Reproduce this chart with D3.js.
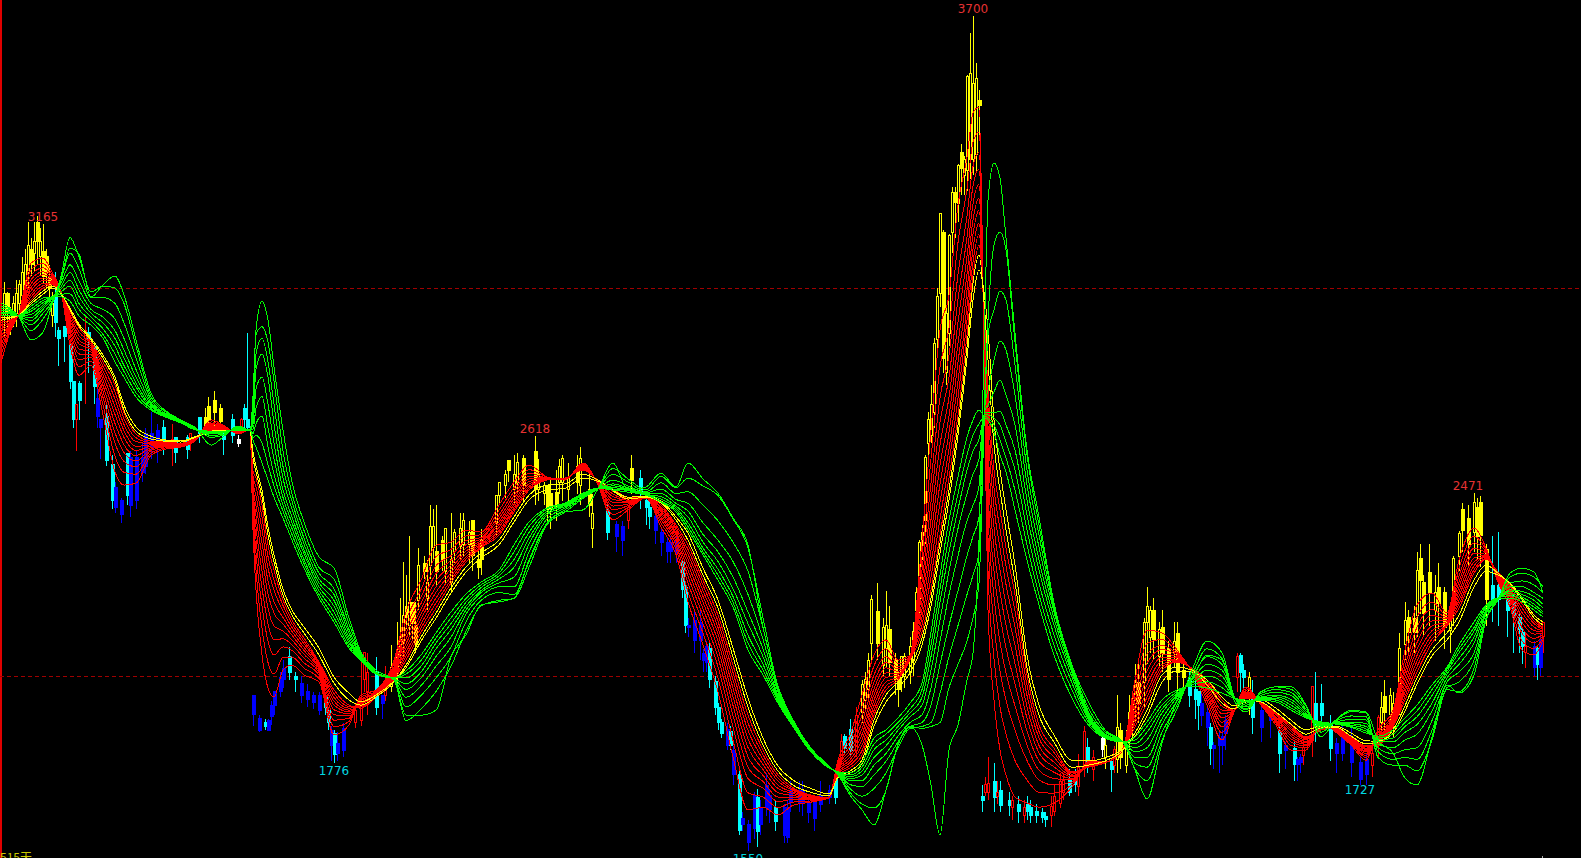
<!DOCTYPE html>
<html><head><meta charset="utf-8">
<script src="https://cdn.jsdelivr.net/npm/d3@7/dist/d3.min.js"></script>
<style>html,body{margin:0;padding:0;background:#000;overflow:hidden}svg{display:block}</style>
</head><body><div id="chart"></div>
<script>
// band rows: day, red0..red9, yellow0, yellow1, green8..green0 (prices)
const bandsA=[
[0,2807,2826,2842,2854,2866,2876,2886,2895,2904,2912,2917,2923,2928,2930,2933,2935,2938,2943,2948,2953,2961],
[3,2886,2892,2896,2900,2903,2906,2909,2912,2915,2917,2923,2925,2928,2930,2933,2935,2938,2940,2943,2946,2948],
[6,2935,2933,2932,2931,2930,2930,2930,2930,2930,2930,2930,2930,2930,2929,2929,2928,2928,2927,2926,2925,2925],
[10,3064,3047,3033,3021,3011,3001,2993,2984,2977,2969,2964,2959,2953,2946,2940,2932,2924,2916,2905,2890,2866],
[14,3077,3063,3052,3042,3034,3026,3019,3012,3006,3000,2992,2984,2974,2968,2962,2956,2951,2945,2935,2920,2886],
[17,3041,3035,3030,3026,3023,3019,3016,3013,3011,3008,3005,3000,2977,2977,2976,2976,2975,2972,2965,2960,2956],
[20,2990,2990,2990,2990,2990,2990,2990,2990,2990,2990,2987,2984,2977,2984,2990,2997,3003,3012,3020,3030,3020],
[23,2853,2868,2881,2891,2901,2909,2917,2924,2931,2938,2943,2948,2966,2985,3005,3020,3040,3060,3090,3130,3103],
[26,2775,2797,2815,2830,2843,2856,2866,2877,2887,2897,2902,2907,2928,2945,2960,2978,2995,3018,3050,3080,3087],
[30,2801,2812,2821,2828,2835,2841,2846,2851,2856,2861,2866,2871,2904,2915,2925,2935,2945,2960,2975,2990,2977],
[34,2673,2698,2718,2734,2749,2763,2775,2787,2798,2809,2819,2827,2871,2880,2895,2910,2925,2945,2975,3005,3008],
[38,2526,2566,2600,2627,2651,2674,2694,2714,2732,2750,2760,2770,2809,2830,2850,2870,2890,2920,2960,3000,3031],
[41,2492,2525,2553,2576,2596,2615,2632,2648,2663,2678,2685,2698,2770,2785,2800,2820,2840,2870,2910,2960,2982],
[45,2497,2520,2539,2554,2568,2581,2592,2604,2614,2624,2631,2642,2719,2730,2745,2755,2770,2790,2820,2850,2866],
[50,2569,2575,2581,2585,2589,2593,2596,2599,2602,2605,2611,2618,2685,2688,2690,2695,2700,2705,2712,2720,2729],
[55,2585,2588,2591,2593,2595,2597,2599,2600,2602,2603,2605,2608,2667,2668,2669,2670,2671,2673,2676,2680,2683],
[60,2590,2592,2593,2595,2596,2597,2598,2598,2599,2600,2603,2606,2652,2653,2654,2654,2655,2656,2657,2658,2660],
[65,2608,2609,2610,2610,2611,2611,2612,2612,2613,2613,2616,2618,2634,2634,2635,2635,2636,2636,2637,2637,2639],
[70,2660,2655,2651,2648,2645,2643,2641,2638,2636,2634,2631,2631,2631,2630,2629,2628,2626,2624,2620,2615,2595],
[74,2647,2645,2643,2641,2640,2638,2637,2636,2635,2634,2634,2634,2631,2630,2629,2628,2627,2626,2623,2621,2616],
[79,2624,2625,2626,2627,2628,2629,2629,2630,2630,2631,2634,2634,2634,2635,2636,2637,2638,2639,2641,2643,2644],
[83,2634,2634,2634,2634,2634,2634,2634,2634,2634,2634,2634,2634,2634,2634,2634,2634,2634,2634,2634,2634,2634]];
const bandsB=[
[84,2376,2403,2426,2444,2460,2476,2489,2503,2515,2527,2562,2577,2608,2615,2625,2635,2650,2665,2690,2720,2711],
[85,2222,2274,2317,2352,2383,2412,2438,2464,2487,2510,2526,2541,2590,2620,2650,2690,2740,2790,2830,2880,2892],
[87,2054,2123,2181,2228,2270,2309,2344,2378,2409,2440,2461,2479,2549,2600,2670,2720,2770,2830,2870,2900,2966],
[89,1969,2035,2090,2135,2175,2212,2245,2278,2308,2337,2363,2384,2505,2545,2590,2640,2700,2770,2810,2860,2917],
[91,1946,2005,2054,2093,2129,2162,2191,2221,2247,2273,2294,2312,2461,2490,2520,2560,2600,2650,2700,2760,2796],
[94,2015,2048,2075,2096,2116,2134,2151,2167,2182,2196,2209,2224,2407,2425,2440,2460,2480,2510,2540,2580,2634],
[97,2028,2049,2066,2080,2093,2105,2115,2125,2135,2144,2157,2170,2350,2365,2380,2395,2410,2430,2450,2470,2500],
[101,2003,2020,2034,2046,2056,2066,2074,2083,2090,2098,2111,2126,2278,2290,2300,2315,2325,2340,2355,2375,2397],
[106,1985,1994,2002,2008,2014,2019,2023,2028,2032,2036,2054,2072,2201,2210,2220,2230,2240,2250,2265,2280,2307],
[111,1848,1869,1886,1900,1913,1925,1935,1945,1955,1964,1982,1997,2139,2150,2165,2180,2195,2210,2225,2250,2278],
[116,1874,1883,1891,1897,1903,1908,1912,1917,1921,1925,1938,1956,2072,2078,2085,2092,2100,2110,2120,2135,2149],
[120,1951,1945,1940,1936,1932,1929,1926,1922,1920,1917,1925,1933,2038,2040,2042,2044,2046,2048,2052,2056,2062],
[125,1964,1961,1958,1956,1954,1952,1950,1949,1947,1946,1946,1951,2005,2005,2005,2006,2006,2007,2008,2010,2015],
[131,2041,2032,2024,2018,2012,2007,2003,1998,1994,1990,1985,1987,1995,1995,1995,1994,1994,1993,1991,1990,1990]];
const bandsC=[
[135,2165,2143,2124,2109,2096,2083,2072,2061,2051,2041,2028,2021,2013,2005,1995,1980,1965,1945,1920,1885,1899],
[140,2247,2223,2203,2187,2172,2159,2147,2134,2124,2113,2100,2090,2054,2040,2025,2010,1995,1975,1950,1915,1899],
[145,2337,2308,2284,2264,2246,2230,2216,2201,2188,2175,2162,2149,2111,2098,2085,2070,2050,2025,1995,1960,1912],
[150,2345,2326,2310,2298,2286,2276,2266,2257,2248,2240,2227,2214,2165,2150,2135,2120,2100,2075,2050,2025,2049],
[155,2376,2361,2349,2339,2330,2322,2315,2307,2301,2294,2281,2268,2211,2200,2190,2180,2170,2160,2140,2115,2106],
[160,2371,2364,2357,2353,2348,2344,2340,2337,2333,2330,2317,2304,2242,2235,2228,2220,2215,2205,2195,2180,2183],
[166,2441,2427,2415,2406,2397,2390,2383,2375,2369,2363,2350,2338,2273,2265,2258,2250,2240,2230,2215,2195,2191],
[171,2500,2486,2475,2465,2457,2449,2442,2435,2429,2423,2410,2397,2338,2320,2300,2280,2255,2230,2210,2200,2201],
[176,2544,2532,2523,2515,2508,2501,2495,2489,2484,2479,2466,2454,2397,2385,2370,2355,2340,2320,2295,2280,2299],
[182,2513,2512,2510,2509,2508,2508,2507,2506,2506,2505,2492,2479,2433,2430,2425,2420,2415,2405,2395,2390,2394],
[188,2505,2506,2507,2508,2508,2509,2509,2509,2510,2510,2495,2484,2446,2444,2442,2440,2437,2433,2428,2422,2423],
[194,2549,2546,2543,2541,2539,2537,2536,2534,2532,2531,2520,2510,2471,2470,2469,2468,2466,2463,2460,2458,2428],
[199,2492,2494,2496,2498,2499,2501,2502,2503,2504,2505,2505,2502,2484,2484,2484,2484,2484,2484,2484,2484,2482]];
const bandsD=[
[204,2402,2416,2428,2438,2447,2455,2462,2469,2476,2482,2477,2479,2479,2482,2485,2490,2495,2505,2520,2535,2549],
[209,2428,2434,2439,2443,2447,2450,2453,2456,2458,2461,2456,2461,2474,2478,2480,2482,2485,2490,2500,2508,2479],
[215,2459,2459,2460,2460,2460,2460,2460,2461,2461,2461,2461,2463,2466,2466,2467,2468,2470,2472,2475,2480,2487],
[220,2384,2394,2403,2410,2416,2422,2427,2432,2436,2441,2446,2451,2448,2450,2456,2462,2470,2482,2498,2515,2523],
[225,2313,2327,2338,2347,2355,2363,2370,2377,2383,2389,2402,2410,2423,2428,2433,2438,2445,2455,2470,2485,2487],
[229,2191,2217,2240,2257,2273,2288,2301,2314,2326,2338,2350,2368,2376,2385,2395,2410,2425,2445,2475,2510,2549],
[234,2080,2110,2135,2155,2173,2190,2205,2220,2234,2247,2260,2278,2312,2320,2330,2345,2365,2395,2440,2490,2508],
[239,1959,1995,2024,2048,2070,2090,2108,2125,2141,2157,2175,2196,2247,2260,2275,2295,2320,2350,2400,2465,2471],
[244,1791,1834,1869,1898,1924,1947,1969,1990,2009,2028,2049,2072,2178,2190,2205,2225,2255,2295,2345,2405,2407],
[249,1655,1699,1736,1765,1792,1816,1838,1860,1879,1899,1920,1943,2067,2085,2105,2135,2165,2210,2270,2330,2337],
[254,1662,1688,1711,1728,1744,1759,1772,1785,1797,1809,1822,1840,2003,2015,2030,2050,2070,2095,2125,2150,2126],
[259,1642,1661,1676,1688,1699,1710,1719,1729,1737,1745,1755,1768,1930,1935,1940,1945,1950,1958,1965,1972,1974],
[264,1667,1675,1682,1687,1692,1697,1701,1705,1708,1712,1719,1732,1869,1871,1873,1875,1877,1880,1882,1885,1887],
[270,1675,1678,1681,1683,1685,1687,1689,1690,1692,1693,1700,1710,1804,1805,1806,1807,1808,1809,1810,1811,1814],
[276,1686,1686,1686,1686,1686,1686,1686,1686,1686,1686,1691,1696,1763,1764,1764,1765,1765,1765,1766,1766,1768],
[279,1784,1777,1771,1766,1762,1758,1755,1751,1748,1745,1740,1737,1753,1752,1752,1752,1751,1750,1748,1746,1745]];
const bandsE=[
[283,1848,1833,1820,1810,1800,1792,1784,1777,1770,1763,1755,1750,1750,1745,1740,1735,1730,1720,1710,1700,1693],
[287,1951,1923,1900,1881,1864,1849,1835,1821,1808,1796,1784,1773,1776,1765,1755,1745,1730,1715,1690,1670,1655],
[291,2054,2026,2003,1984,1967,1952,1938,1924,1911,1899,1886,1871,1840,1825,1810,1790,1770,1745,1710,1660,1616],
[295,2093,2070,2050,2035,2021,2008,1996,1985,1974,1964,1951,1933,1861,1850,1835,1820,1800,1780,1750,1705,1706],
[299,2041,2032,2024,2018,2012,2007,2003,1998,1994,1990,1985,1969,1892,1880,1870,1860,1845,1830,1815,1825,1822],
[303,2054,2052,2050,2048,2047,2045,2044,2043,2042,2041,2023,2008,1930,1915,1905,1895,1880,1870,1865,1870,1868],
[307,2350,2307,2272,2243,2217,2194,2172,2151,2132,2113,2098,2080,1982,1965,1945,1925,1900,1880,1870,1865,1822],
[310,2634,2560,2498,2449,2403,2362,2325,2288,2255,2222,2201,2180,2113,2080,2050,2015,1970,1925,1880,1870,1719],
[313,2892,2796,2717,2654,2596,2543,2495,2448,2405,2363,2343,2317,2260,2225,2190,2145,2090,2030,1955,1880,1590],
[316,2982,2897,2826,2770,2718,2670,2628,2586,2548,2510,2479,2453,2402,2360,2320,2270,2210,2130,2050,1970,1809],
[319,3214,3117,3035,2971,2911,2857,2808,2760,2716,2673,2647,2621,2513,2470,2430,2380,2310,2220,2130,2030,1874],
[322,3337,3255,3186,3131,3081,3035,2994,2952,2916,2879,2848,2819,2616,2570,2530,2470,2400,2310,2210,2090,1990],
[324,3451,3376,3313,3263,3217,3175,3138,3100,3066,3033,3013,2969,2660,2620,2580,2520,2440,2360,2260,2150,2059],
[326,3466,3402,3349,3306,3267,3232,3200,3168,3139,3111,3085,3046,2686,2650,2610,2560,2490,2410,2320,2240,2350]];
const bandsF=[
[328,2660,2702,2737,2765,2790,2813,2834,2855,2873,2892,2930,2969,2665,2670,2675,2680,2685,2698,2711,2737,2943],
[329,2170,2272,2357,2425,2487,2544,2595,2646,2692,2737,2814,2891,2660,2665,2673,2680,2698,2737,2879,2917,3226],
[331,1938,2045,2134,2205,2270,2329,2383,2436,2484,2531,2595,2660,2629,2647,2665,2678,2732,2814,2943,3111,3322],
[333,1809,1920,2013,2088,2156,2217,2273,2329,2378,2428,2479,2531,2569,2608,2647,2683,2763,2863,2992,3144,3283],
[335,1745,1850,1938,2008,2073,2131,2184,2236,2283,2330,2376,2428,2526,2562,2603,2647,2724,2840,2969,3098,3129],
[338,1688,1782,1860,1923,1980,2032,2079,2126,2167,2209,2242,2286,2428,2479,2531,2582,2647,2724,2801,2861,2884],
[342,1673,1732,1782,1822,1858,1891,1921,1950,1977,2003,2021,2054,2299,2338,2376,2415,2453,2492,2531,2570,2582],
[346,1662,1700,1732,1757,1781,1802,1821,1840,1857,1874,1899,1925,2183,2209,2240,2273,2299,2332,2363,2389,2410],
[351,1672,1698,1719,1736,1752,1766,1778,1791,1803,1814,1830,1848,2054,2080,2106,2131,2149,2165,2175,2186,2188],
[357,1714,1721,1727,1732,1736,1740,1743,1747,1750,1753,1765,1783,1943,1964,1982,1997,2008,2015,2020,2026,2028],
[363,1783,1780,1777,1775,1773,1771,1770,1769,1767,1766,1771,1781,1869,1875,1880,1885,1890,1895,1900,1910,1925],
[368,1778,1778,1778,1777,1777,1777,1777,1776,1776,1776,1781,1789,1840,1842,1843,1845,1846,1848,1851,1856,1861],
[374,1814,1813,1813,1812,1812,1811,1811,1810,1810,1809,1809,1812,1830,1830,1830,1830,1830,1830,1830,1830,1830]];
const bandsG=[
[378,1990,1968,1950,1935,1922,1910,1899,1888,1878,1868,1853,1845,1843,1835,1825,1815,1805,1790,1775,1760,1758],
[382,2118,2084,2056,2033,2013,1994,1977,1960,1945,1930,1912,1897,1882,1870,1855,1835,1815,1790,1765,1730,1683],
[387,2111,2094,2079,2068,2057,2048,2039,2030,2023,2015,2003,1984,1938,1925,1915,1905,1890,1875,1855,1835,1827],
[392,2067,2061,2057,2053,2050,2047,2044,2041,2038,2036,2023,2013,1964,1960,1955,1950,1945,1935,1925,1915,1938],
[397,2010,2012,2013,2015,2016,2016,2017,2018,2019,2020,2015,2010,1974,1978,1982,1985,1990,1995,2003,2015,1990],
[402,1925,1937,1947,1954,1961,1968,1974,1980,1985,1990,1977,1990,1969,1985,2000,2015,2030,2050,2070,2090,2054],
[407,1835,1854,1869,1881,1893,1903,1912,1922,1930,1938,1930,1946,1956,1970,1985,2000,2015,2030,2045,2060,2041],
[411,1907,1908,1909,1909,1910,1910,1911,1911,1912,1912,1915,1923,1943,1945,1945,1946,1946,1947,1947,1948,1938],
[415,1972,1967,1962,1959,1956,1953,1950,1948,1945,1943,1938,1933,1938,1935,1933,1930,1925,1920,1915,1912,1907],
[420,1925,1926,1928,1929,1930,1931,1932,1933,1933,1933,1933,1938,1938,1940,1942,1944,1946,1950,1955,1960,1959],
[425,1873,1879,1884,1888,1892,1895,1899,1902,1904,1907,1907,1917,1933,1938,1942,1946,1950,1958,1965,1972,1972],
[430,1809,1821,1830,1838,1845,1851,1858,1864,1869,1874,1876,1886,1912,1918,1925,1933,1940,1950,1958,1966,1972],
[435,1809,1815,1820,1824,1828,1831,1835,1838,1840,1843,1850,1861,1892,1895,1898,1901,1905,1910,1915,1922,1925],
[440,1881,1877,1874,1872,1870,1868,1866,1864,1863,1861,1866,1871,1882,1880,1878,1876,1873,1870,1865,1855,1843],
[445,1855,1857,1859,1860,1862,1863,1864,1866,1867,1868,1868,1871,1876,1877,1878,1879,1880,1882,1885,1887,1887],
[450,1822,1826,1829,1831,1834,1836,1838,1840,1841,1843,1845,1853,1868,1870,1873,1877,1881,1888,1897,1908,1912],
[455,1783,1790,1795,1800,1804,1807,1811,1814,1817,1820,1825,1833,1853,1858,1864,1870,1878,1887,1895,1905,1907]];
const bandsH=[
[459,1861,1854,1848,1843,1839,1835,1832,1828,1825,1822,1830,1832,1845,1840,1835,1830,1825,1815,1805,1790,1834],
[464,1912,1904,1898,1893,1888,1884,1880,1876,1872,1869,1861,1853,1861,1850,1840,1830,1815,1800,1785,1770,1802],
[468,2067,2044,2024,2009,1995,1982,1970,1959,1948,1938,1923,1910,1892,1880,1870,1855,1835,1810,1790,1770,1737],
[472,2183,2152,2126,2105,2086,2069,2053,2038,2024,2010,1995,1979,1925,1910,1895,1875,1850,1815,1785,1755,1719],
[477,2214,2191,2171,2156,2142,2129,2117,2106,2095,2085,2067,2052,1977,1965,1950,1930,1910,1885,1860,1835,1843],
[482,2162,2156,2151,2147,2143,2140,2137,2134,2132,2129,2111,2093,2023,2018,2012,2005,1995,1985,1970,1965,1977],
[486,2299,2277,2258,2243,2230,2217,2206,2195,2185,2175,2157,2139,2080,2070,2060,2045,2030,2010,1985,1960,1956],
[491,2381,2360,2343,2329,2316,2304,2294,2284,2274,2265,2247,2229,2139,2125,2115,2100,2085,2060,2040,2020,2002],
[495,2330,2325,2320,2317,2314,2311,2308,2306,2303,2301,2286,2270,2183,2180,2175,2170,2165,2160,2150,2145,2144],
[499,2242,2247,2251,2254,2257,2259,2262,2264,2266,2268,2265,2260,2201,2201,2201,2200,2200,2200,2200,2199,2196],
[503,2178,2188,2196,2203,2209,2215,2220,2225,2230,2234,2237,2240,2201,2207,2212,2218,2222,2230,2240,2255,2265],
[507,2067,2090,2110,2125,2139,2152,2164,2175,2186,2196,2196,2201,2191,2197,2203,2210,2218,2230,2245,2265,2278],
[511,2054,2071,2086,2097,2108,2117,2126,2135,2142,2150,2150,2157,2170,2178,2185,2195,2205,2215,2235,2255,2268],
[514,2093,2099,2103,2107,2110,2114,2116,2119,2122,2124,2131,2139,2152,2160,2165,2175,2185,2200,2215,2230,2214]];

// candles: day, high, bodyTop, bodyBottom, low, kind (u hollow yellow, f filled yellow, c cyan, b blue, r red, w white)
const candlesA=[
[0,2969,2930,2890,2860,'r'],[1,3015,2985,2930,2876,'u'],[2,2990,2985,2935,2900,'f'],[3,2950,2930,2915,2880,'u'],[4,2980,2960,2920,2900,'u'],[5,3020,2985,2935,2900,'u'],[6,3020,3010,2960,2930,'u'],[7,3080,3040,2980,2950,'u'],[8,3100,3060,3000,2980,'u'],[9,3170,3110,3040,3000,'u'],[10,3130,3100,3060,3030,'f'],[11,3170,3120,3090,3040,'u'],[12,3185,3170,3120,3060,'f'],[13,3155,3120,3080,3030,'u'],[14,3165,3095,3030,3010,'f'],[15,3100,3080,3040,3000,'f'],[16,3060,3030,3000,2970,'f'],[17,2990,2960,2930,2900,'u'],
[18,3040,2976,2910,2873,'c'],[19,2900,2890,2870,2800,'c'],[21,2900,2900,2875,2810,'c'],[23,2860,2858,2758,2740,'c'],[24,2750,2758,2660,2640,'c'],[25,2690,2700,2660,2580,'r'],[26,2760,2755,2710,2660,'c'],[28,2930,2890,2870,2700,'r'],[29,2900,2886,2866,2780,'c'],[31,2850,2848,2745,2700,'c'],[32,2760,2715,2670,2640,'b'],[33,2660,2660,2640,2560,'b'],[35,2700,2668,2555,2540,'c'],[37,2570,2546,2453,2430,'c'],[38,2500,2485,2433,2420,'b'],[40,2460,2453,2415,2395,'b'],[42,2570,2574,2466,2440,'c'],[43,2580,2564,2440,2410,'b'],[45,2580,2564,2453,2430,'b'],[47,2600,2564,2525,2500,'b'],[48,2640,2626,2540,2520,'b'],[50,2680,2626,2590,2560,'b'],[52,2650,2634,2600,2550,'b'],[54,2660,2640,2600,2570,'c'],[57,2650,2610,2590,2540,'r'],[58,2610,2615,2575,2550,'c'],[62,2620,2615,2585,2560,'c'],[63,2625,2625,2600,2580,'r'],[66,2660,2665,2625,2600,'c'],[68,2690,2665,2640,2620,'f'],[69,2720,2695,2660,2630,'f'],[71,2735,2710,2680,2640,'f'],[73,2700,2690,2655,2620,'f'],[74,2640,2620,2610,2570,'c'],[77,2675,2660,2620,2600,'c'],[79,2620,2610,2600,2590,'w'],[80,2665,2660,2640,2625,'r'],[81,2700,2690,2660,2640,'c'],[82,2884,2660,2640,2635,'c']];
const candlesB=[
[84,1950,1950,1900,1870,'b'],[86,1900,1890,1860,1855,'b'],[88,1890,1880,1870,1860,'c'],[89,1890,1885,1860,1860,'b'],[90,1935,1925,1895,1875,'b'],[91,1960,1960,1925,1900,'b'],[93,2010,1995,1960,1945,'b'],[94,2040,2020,1990,1970,'b'],[96,2075,2050,2010,1990,'c'],[98,2010,2000,1990,1960,'c'],[100,2000,1980,1950,1930,'b'],[102,1980,1960,1940,1920,'b'],[104,1960,1950,1932,1915,'b'],[106,1960,1950,1910,1900,'b'],[108,1960,1950,1920,1900,'c'],[109,1920,1910,1880,1860,'c'],[110,1870,1860,1820,1780,'b'],[111,1860,1853,1797,1776,'c'],[112,1855,1825,1800,1780,'b'],[114,1880,1865,1808,1790,'b'],[118,1930,1910,1880,1865,'r'],[120,2040,1935,1885,1870,'r'],[121,2060,2060,1990,1960,'r'],[122,2060,2010,1960,1900,'r'],[125,2050,2010,1920,1900,'c'],[127,1950,1950,1930,1890,'b'],[128,2025,1980,1950,1935,'r'],[130,2080,2021,1974,1960,'u'],[132,2140,2060,2015,1980,'u']];
const candlesC=[
[133,2200,2095,2060,2030,'u'],[134,2295,2155,2090,2050,'u'],[135,2260,2180,2150,2120,'f'],[136,2360,2190,2130,2100,'u'],[137,2190,2190,2135,2090,'f'],[138,2190,2130,2080,2060,'f'],[139,2330,2285,2195,2170,'u'],[141,2310,2290,2270,2250,'f'],[142,2300,2240,2200,2170,'u'],[143,2440,2385,2285,2250,'u'],[144,2430,2385,2330,2300,'u'],[145,2440,2320,2270,2230,'f'],[147,2360,2350,2300,2270,'f'],[148,2380,2380,2270,2240,'u'],[150,2420,2300,2240,2220,'u'],[151,2380,2370,2320,2290,'u'],[153,2420,2380,2335,2300,'u'],[154,2420,2400,2340,2310,'u'],[156,2400,2370,2340,2290,'u'],[157,2400,2400,2310,2270,'f'],[159,2330,2300,2280,2250,'f'],[160,2380,2350,2300,2260,'f'],[165,2460,2465,2395,2360,'u'],[166,2500,2500,2465,2440,'u'],[168,2530,2520,2490,2460,'u'],[169,2550,2555,2530,2500,'f'],[171,2570,2520,2480,2440,'u'],[172,2575,2550,2500,2470,'u'],[174,2570,2560,2490,2450,'f'],[178,2618,2578,2480,2440,'f'],[179,2560,2520,2480,2450,'u'],[181,2500,2490,2470,2440,'u'],[182,2480,2490,2430,2400,'f'],[183,2510,2470,2430,2380,'f'],[185,2530,2472,2436,2400,'f'],[186,2560,2540,2500,2470,'u'],[187,2570,2560,2500,2450,'u'],[189,2550,2510,2480,2450,'u'],[192,2570,2540,2500,2470,'f'],[193,2590,2560,2490,2440,'u'],[196,2520,2480,2440,2410,'f'],[197,2470,2420,2380,2330,'u']];
const candlesD=[
[202,2445,2423,2371,2350,'c'],[205,2400,2390,2360,2320,'b'],[207,2400,2385,2350,2310,'b'],[209,2440,2435,2402,2380,'r'],[210,2570,2536,2505,2470,'f'],[213,2530,2510,2474,2430,'c'],[215,2465,2453,2433,2390,'c'],[216,2450,2435,2410,2380,'c'],[218,2420,2410,2376,2340,'b'],[220,2385,2371,2345,2310,'b'],[222,2355,2343,2320,2290,'b'],[223,2360,2345,2320,2290,'b'],[225,2365,2350,2317,2290,'b'],[227,2300,2294,2222,2200,'c'],[228,2240,2229,2131,2110,'c'],[229,2150,2131,2124,2100,'b'],[231,2170,2144,2092,2060,'b'],[233,2170,2139,2092,2040,'b'],[234,2070,2059,2041,2010,'b'],[235,2090,2075,2036,2010,'b'],[236,2085,2072,1990,1970,'c'],[238,2000,1985,1920,1900,'c'],[239,1930,1920,1879,1860,'c'],[240,1890,1879,1853,1840,'c'],[242,1880,1861,1822,1810,'b'],[243,1870,1856,1822,1810,'c'],[244,1820,1809,1745,1720,'b'],[246,1760,1745,1603,1590,'c'],[247,1650,1634,1616,1600,'b'],[249,1630,1616,1570,1550,'b'],[251,1700,1693,1608,1580,'b'],[252,1710,1686,1598,1560,'c'],[253,1680,1660,1616,1590,'b'],[255,1750,1719,1662,1640,'b'],[256,1710,1693,1655,1620,'b'],[258,1680,1660,1624,1600,'c'],[261,1670,1660,1590,1570,'b'],[262,1680,1660,1585,1570,'b'],[263,1730,1706,1673,1650,'b'],[266,1730,1706,1673,1650,'b'],[267,1730,1706,1673,1640,'b'],[269,1690,1675,1649,1620,'b'],[271,1690,1673,1634,1600,'b'],[273,1730,1693,1668,1650,'b'],[276,1720,1706,1688,1670,'b'],[278,1760,1732,1688,1670,'c']];
const candlesE=[
[280,1850,1830,1791,1770,'r'],[281,1850,1843,1814,1800,'c'],[283,1890,1861,1809,1790,'c'],[285,1920,1899,1809,1790,'r'],[287,1990,1977,1905,1880,'u'],[288,2010,1990,1938,1910,'u'],[289,2060,2041,1964,1940,'u'],[290,2210,2196,2085,2040,'u'],[292,2240,2165,2085,2040,'f'],[294,2150,2126,2028,2000,'u'],[295,2220,2130,2070,2020,'u'],[296,2180,2121,2036,2000,'f'],[298,2060,2041,1990,1950,'f'],[299,2010,1990,1964,1920,'f'],[300,2050,2049,1995,1960,'u'],[301,2060,2049,2000,1970,'u'],[303,2100,2076,2010,1980,'u'],[304,2140,2115,2040,2000,'u'],[305,2230,2214,2170,2120,'u'],[306,2350,2345,2196,2150,'u'],[307,2390,2371,2350,2300,'u'],[308,2570,2564,2402,2340,'u'],[309,2680,2660,2600,2560,'u'],[310,2750,2700,2620,2600,'u'],[311,2870,2858,2678,2640,'u'],[312,3000,2977,2866,2820,'u'],[313,3193,3193,2987,2950,'u'],[314,3150,3142,2819,2780,'f'],[315,2950,2935,2781,2750,'u'],[316,3140,3136,2884,2850,'u'],[317,3260,3247,3142,3090,'u'],[318,3260,3247,3221,3130,'f'],[319,3320,3317,3219,3170,'u'],[320,3370,3348,3309,3240,'f'],[321,3340,3330,3290,3240,'u'],[322,3550,3544,3304,3250,'u'],[323,3657,3554,3330,3280,'u'],[324,3700,3528,3330,3290,'u'],[325,3580,3541,3343,3300,'u'],[326,3510,3484,3471,3380,'f']];
const candlesF=[
[327,1720,1690,1680,1650,'c'],[328,1740,1720,1700,1690,'r'],[329,1790,1724,1701,1680,'r'],[331,1775,1727,1686,1650,'c'],[332,1730,1700,1690,1670,'r'],[333,1730,1706,1667,1650,'c'],[336,1700,1680,1667,1640,'c'],[337,1690,1680,1660,1630,'r'],[339,1690,1670,1650,1620,'c'],[341,1680,1660,1640,1620,'r'],[342,1690,1670,1650,1630,'c'],[343,1680,1660,1640,1620,'c'],[345,1670,1650,1640,1620,'c'],[347,1660,1649,1636,1620,'c'],[348,1650,1637,1629,1610,'c'],[350,1690,1664,1640,1610,'r'],[351,1720,1690,1650,1640,'r'],[353,1750,1727,1672,1660,'r'],[354,1750,1730,1700,1680,'r'],[356,1760,1730,1700,1690,'c'],[358,1760,1740,1720,1700,'c'],[359,1800,1765,1714,1690,'r'],[361,1870,1856,1765,1740,'r'],[362,1840,1817,1778,1750,'c'],[364,1810,1790,1760,1730,'r'],[367,1850,1840,1810,1790,'w'],[368,1840,1820,1790,1760,'u'],[370,1780,1780,1760,1700,'c'],[371,1820,1810,1770,1750,'r'],[372,1950,1866,1784,1750,'u'],[373,1880,1860,1790,1760,'f']];
const candlesG=[
[375,1860,1820,1770,1750,'u'],[376,1950,1907,1848,1810,'u'],[377,1950,1930,1880,1840,'u'],[378,2030,1984,1930,1880,'u'],[379,2030,1984,1930,1880,'f'],[381,2150,2137,1984,1920,'u'],[382,2229,2178,2137,2030,'u'],[383,2180,2170,2100,2060,'u'],[384,2200,2170,2093,2040,'f'],[386,2140,2120,2050,2020,'u'],[387,2170,2124,2059,2010,'f'],[389,2090,2070,1990,1960,'f'],[391,2140,2090,2060,2020,'u'],[392,2140,2110,2010,1960,'f'],[394,2040,2015,1995,1960,'f'],[396,2010,1990,1951,1920,'c'],[398,1990,1965,1940,1890,'c'],[399,1960,1959,1925,1860,'c'],[400,1960,1930,1899,1870,'b'],[402,1920,1907,1868,1820,'b'],[403,1880,1866,1814,1770,'c'],[404,1830,1822,1814,1760,'b'],[406,1860,1840,1822,1750,'b'],[407,1860,1843,1822,1770,'b'],[408,1900,1886,1853,1810,'b'],[412,2060,2049,1997,1960,'r'],[413,2060,2054,2008,1960,'c'],[414,2030,2015,1995,1950,'c'],[416,2010,1995,1946,1900,'u'],[417,1990,1951,1894,1850,'c'],[420,1940,1912,1868,1830,'b'],[423,1920,1907,1886,1840,'b'],[426,1870,1856,1801,1750,'c'],[428,1830,1822,1808,1760,'b'],[431,1830,1814,1771,1730,'c'],[432,1790,1785,1771,1730,'b'],[433,1800,1791,1778,1750,'b'],[434,1840,1817,1796,1770,'r'],[437,1975,1972,1835,1790,'r'],[438,2010,1930,1880,1830,'c'],[440,1980,1930,1899,1860,'c'],[443,1900,1874,1814,1780,'c'],[445,1840,1827,1801,1750,'b'],[447,1880,1843,1800,1780,'b'],[450,1870,1822,1778,1740,'b'],[453,1790,1778,1732,1720,'b'],[455,1800,1784,1745,1720,'b'],[457,1830,1800,1770,1740,'r'],[459,1900,1892,1822,1790,'r']];
const candlesH=[
[460,1960,1920,1879,1830,'u'],[461,1990,1946,1905,1860,'f'],[463,1970,1950,1900,1870,'u'],[464,1960,1930,1892,1840,'u'],[466,2110,2072,1956,1900,'u'],[468,2190,2144,2080,2040,'u'],[469,2170,2152,2111,2060,'f'],[471,2180,2149,2111,2060,'f'],[472,2320,2273,2157,2100,'u'],[473,2340,2304,2247,2160,'f'],[474,2260,2240,2162,2100,'f'],[476,2340,2268,2214,2130,'f'],[478,2260,2214,2170,2090,'u'],[479,2290,2229,2188,2120,'f'],[481,2230,2216,2126,2070,'f'],[483,2190,2162,2118,2060,'u'],[484,2310,2304,2178,2130,'u'],[486,2375,2368,2307,2270,'u']];
const candlesI=[
[487,2446,2428,2376,2320,'f'],[489,2440,2407,2340,2280,'f'],[491,2471,2446,2370,2320,'u'],[492,2460,2433,2360,2300,'f'],[493,2465,2448,2363,2280,'f'],[495,2340,2325,2196,2130,'f'],[497,2360,2234,2191,2140,'c'],[499,2370,2234,2196,2130,'c'],[502,2230,2200,2170,2100,'c'],[504,2210,2191,2150,2060,'c'],[506,2160,2150,2119,2060,'c'],[507,2120,2113,2075,2030,'c'],[508,2110,2075,2060,2020,'r'],[511,2090,2075,2023,2000,'b'],[512,2080,2070,2030,1990,'c'],[513,2080,2067,2023,2000,'b'],[514,2140,2137,2101,2060,'r'],[513,2110,2093,2023,2000,'b']];

const hiLabels=[["3165",14,3165],["2618",178,2618],["3700",324,3700],["2471",489,2471]];
const loLabels=[["1776",111,1776],["1550",249,1550],["1727",453,1727]];
const gridPrices=[3000,2000];
const daysLabel="515天";

const allBands=[...bandsA,...bandsB,...bandsC,...bandsD,...bandsE,...bandsF,...bandsG,...bandsH];
const allCandles=[...candlesA,...candlesB,...candlesC,...candlesD,...candlesE,...candlesF,...candlesG,...candlesH,...candlesI];
const kindColor={u:"#ffff00",f:"#ffff00",c:"#00ffff",b:"#0000ff",r:"#ff0000",w:"#ffffff"};

const W=1581,H=858;
const x=d3.scaleLinear().domain([0,514]).range([1,1543]);
const y=d3.scaleLinear().domain([3000,2000]).range([288,676]);
const svg=d3.select("#chart").append("svg").attr("width",W).attr("height",H).style("background","#000");

svg.append("line").attr("x1",0.5).attr("x2",0.5).attr("y1",0).attr("y2",H).attr("stroke","#e00000").attr("stroke-width",2).attr("shape-rendering","crispEdges");
svg.selectAll("line.grid").data(gridPrices).join("line").attr("class","grid")
  .attr("x1",0).attr("x2",W).attr("y1",d=>Math.round(y(d))+0.5).attr("y2",d=>Math.round(y(d))+0.5)
  .attr("stroke","#a00000").attr("stroke-dasharray","4 3").attr("shape-rendering","crispEdges");

const gc=svg.append("g").attr("shape-rendering","crispEdges");
const cs=gc.selectAll("g").data(allCandles).join("g");
cs.append("line").attr("x1",d=>Math.round(x(d[0]))+.5).attr("x2",d=>Math.round(x(d[0]))+.5)
  .attr("y1",d=>y(Math.max(d[1],d[2]))).attr("y2",d=>y(Math.min(d[3],d[4]))).attr("stroke",d=>kindColor[d[5]]);
cs.append("rect")
  .attr("x",d=>Math.round(x(d[0]))-1+.5)
  .attr("width",d=>d[5]==="u"||d[5]==="r"?2:3)
  .attr("y",d=>y(d[2])).attr("height",d=>Math.max(1,y(d[3])-y(d[2])))
  .attr("fill",d=>d[5]==="u"||d[5]==="r"?"#000":kindColor[d[5]])
  .attr("stroke",d=>kindColor[d[5]]);

const drawLine=(col,color)=>svg.append("path")
  .datum(allBands)
  .attr("fill","none").attr("stroke",color).attr("stroke-width",1).attr("shape-rendering","crispEdges")
  .attr("d",d3.line().x(r=>x(r[0])).y(r=>y(r[col])).curve(d3.curveMonotoneX));
for(let c=1;c<=10;c++)drawLine(c,"#ff0000");
for(let c=11;c<=12;c++)drawLine(c,"#ffff00");
for(let c=13;c<=21;c++)drawLine(c,"#00ff00");

const font="'DejaVu Sans',sans-serif";
svg.selectAll("text.hi").data(hiLabels).join("text").attr("class","hi")
  .attr("x",d=>x(d[1])).attr("y",d=>y(d[2])-3).attr("text-anchor","middle")
  .attr("fill","#e63232").attr("font-family",font).attr("font-size",12).text(d=>d[0]);
svg.selectAll("text.lo").data(loLabels).join("text").attr("class","lo")
  .attr("x",d=>x(d[1])).attr("y",d=>y(d[2])+12).attr("text-anchor","middle")
  .attr("fill","#00d8e0").attr("font-family",font).attr("font-size",12).text(d=>d[0]);
svg.append("text").attr("x",0).attr("y",862).attr("fill","#c8c800").attr("font-family","'Noto Sans CJK SC',sans-serif").attr("font-size",12).text(daysLabel);
svg.append("line").attr("x1",1542.5).attr("x2",1542.5).attr("y1",856).attr("y2",858).attr("stroke","#aaa");
</script></body></html>
